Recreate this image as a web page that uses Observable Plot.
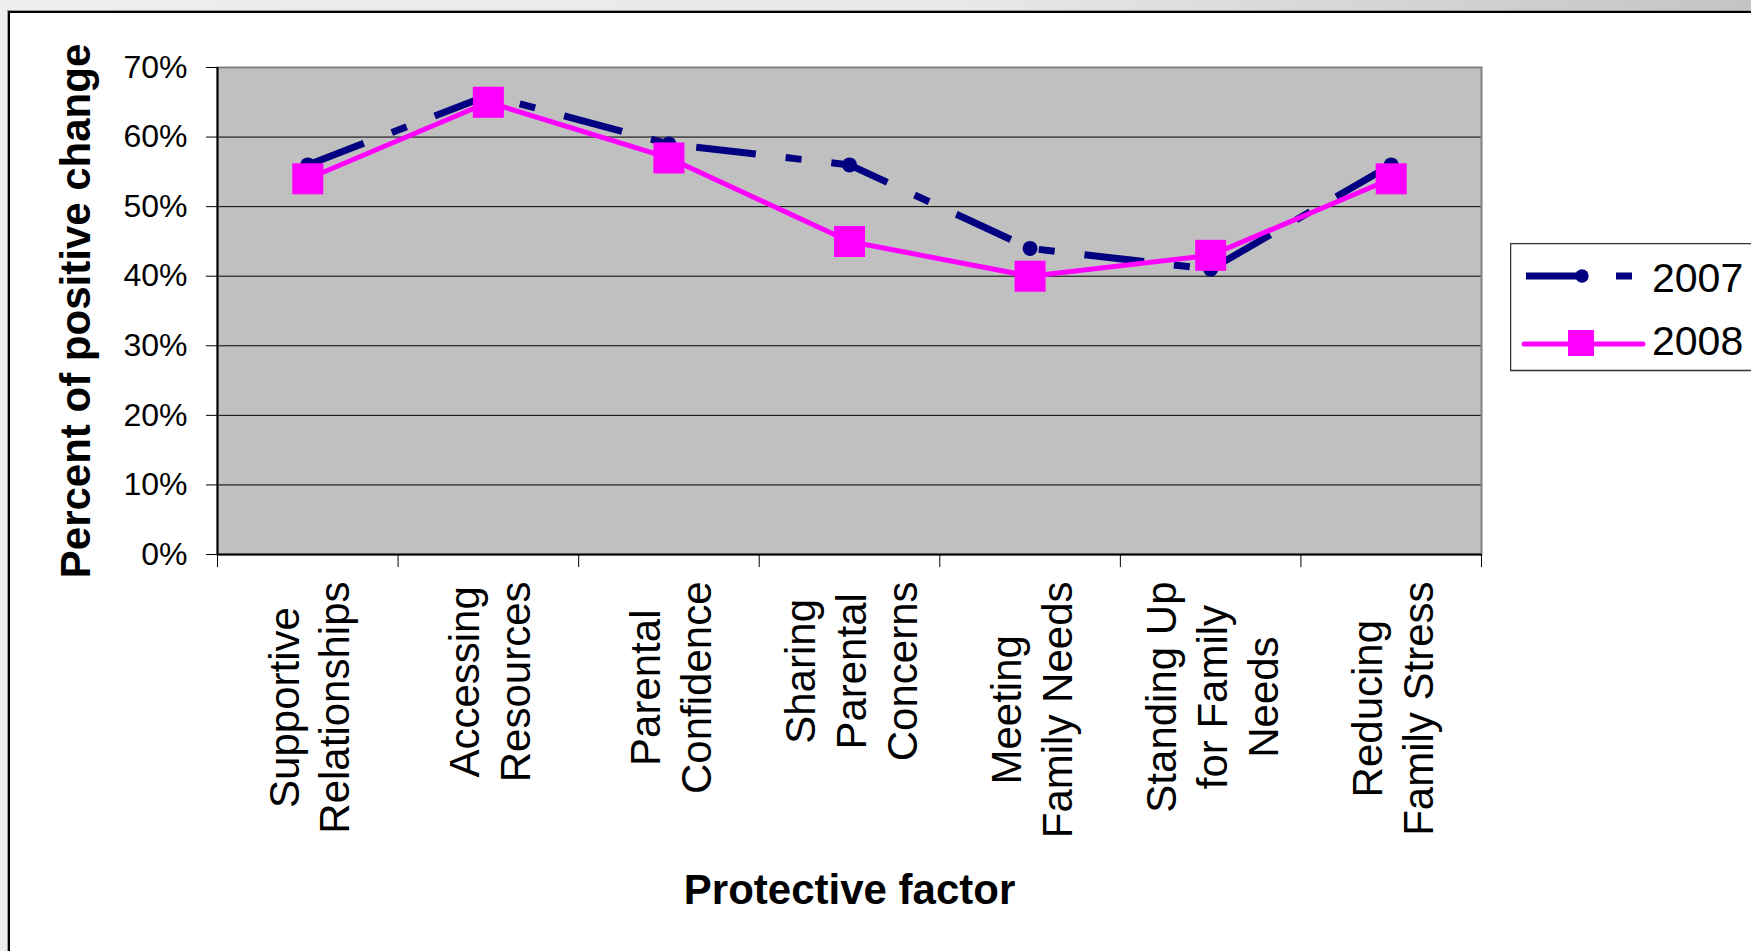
<!DOCTYPE html>
<html>
<head>
<meta charset="utf-8">
<script src="https://cdn.jsdelivr.net/npm/d3@7"></script>
<script src="https://cdn.jsdelivr.net/npm/@observablehq/plot@0.6"></script>
<style>
  html, body { margin: 0; padding: 0; }
  body {
    width: 1751px; height: 951px; overflow: hidden; position: relative;
    background: linear-gradient(to right, #eeeeee 0%, #e8e8e8 55%, #c4c4c4 100%);
    font-family: "Liberation Sans", Arial, sans-serif;
  }
  #frame {
    position: absolute; left: 8px; top: 11px; right: -20px; bottom: -20px;
    background: #ffffff; border-left: 2px solid #000; border-top: 2px solid #000;
    box-shadow: -1px -1px 0 #9a9a9a;
  }
  #chart { position: absolute; left: 0; top: 0; }
  #legend { position: absolute; left: 1510px; top: 243px; }
</style>
</head>
<body>
<div id="frame"></div>
<div id="chart"></div>
<div id="legend"></div>
<script>
// Protective factors (category labels, line breaks as drawn)
const factors = [
  "Supportive\nRelationships",
  "Accessing\nResources",
  "Parental\nConfidence",
  "Sharing\nParental\nConcerns",
  "Meeting\nFamily Needs",
  "Standing Up\nfor Family\nNeeds",
  "Reducing\nFamily Stress"
];
const years = ["2007", "2008"];
// Percent of positive change per factor
const values2007 = [56, 66, 59, 56, 44, 41, 56];
const values2008 = [54, 65, 57, 45, 40, 43, 54];
const yTicks = [0, 10, 20, 30, 40, 50, 60, 70];
const yTitle = "Percent of positive change";
const xTitle = "Protective factor";

const FONT = '"Liberation Sans", Arial, sans-serif';
const NAVY = "#000080";
const MAGENTA = "#ff00ff";

const width = 1751, height = 951;
const marginLeft = 217, marginRight = 270, marginTop = 67, marginBottom = 397;

// each factor sits in the middle of its slot; slot boundaries carry the ticks
const rows2007 = factors.map((f, i) => ({pos: i + 0.5, value: values2007[i]}));
const rows2008 = factors.map((f, i) => ({pos: i + 0.5, value: values2008[i]}));
const slotEdges = d3.range(factors.length + 1);

// measure each label's longest line so every rotated block starts just under the axis
const ctx = document.createElement("canvas").getContext("2d");
ctx.font = `42px ${FONT}`;
const blockLen = factors.map(f => d3.max(f.split("\n"), s => ctx.measureText(s).width));

const labelMarks = factors.map((f, i) =>
  Plot.text([{pos: i + 0.5, text: f}], {
    x: "pos", text: "text", frameAnchor: "bottom",
    rotate: -90, textAnchor: "middle", lineAnchor: "middle",
    lineHeight: 1.21, fontSize: 42, fill: "#000",
    dy: 27 + blockLen[i] / 2
  })
);

const chart = Plot.plot({
  width, height, marginLeft, marginRight, marginTop, marginBottom,
  style: {background: "transparent", fontFamily: FONT, overflow: "visible", color: "#000"},
  x: {type: "linear", domain: [0, factors.length], axis: null},
  y: {domain: [0, 70], axis: null},
  marks: [
    Plot.frame({fill: "#c0c0c0", stroke: null}),
    Plot.ruleY(yTicks.filter(d => d > 0), {stroke: "#000", strokeWidth: 1}),
    Plot.frame({stroke: "#808080", strokeWidth: 2, fill: null}),
    Plot.ruleX([0], {stroke: "#000", strokeWidth: 2}),
    Plot.ruleY([0], {stroke: "#000", strokeWidth: 2}),
    Plot.axisY({ticks: yTicks, tickSize: 11, tickPadding: 19, tickFormat: d => d + "%",
      fontSize: 32, label: null, stroke: "#000"}),
    Plot.axisX({ticks: slotEdges, tickSize: 13, tickFormat: () => "", label: null, stroke: "#000"}),
    // 2007: navy long-dash/dot line with round markers
    Plot.line(rows2007, {x: "pos", y: "value", stroke: NAVY, strokeWidth: 7,
      strokeDasharray: "60,30,16,30", strokeLinecap: "butt", strokeLinejoin: "miter"}),
    Plot.dot(rows2007, {x: "pos", y: "value", r: 7.5, fill: NAVY, stroke: null}),
    // 2008: magenta solid line with square markers
    Plot.line(rows2008, {x: "pos", y: "value", stroke: MAGENTA, strokeWidth: 5, strokeLinejoin: "round"}),
    Plot.dot(rows2008, {x: "pos", y: "value", symbol: "square", r: 17.5, fill: MAGENTA, stroke: null}),
    ...labelMarks,
    Plot.text([yTitle], {frameAnchor: "left", dx: -141, rotate: -90, fontSize: 42,
      fontWeight: "bold", textAnchor: "middle", lineAnchor: "middle", fill: "#000"}),
    Plot.text([xTitle], {frameAnchor: "bottom", dy: 336, fontSize: 42,
      fontWeight: "bold", textAnchor: "middle", lineAnchor: "middle", fill: "#000"})
  ]
});
document.getElementById("chart").appendChild(chart);

// legend box (runs off the right edge of the page)
const leg = d3.select("#legend").append("svg")
  .attr("width", 241).attr("height", 130)
  .style("display", "block").style("overflow", "hidden")
  .style("font-family", FONT);
leg.append("rect").attr("x", 0.5).attr("y", 0.5).attr("width", 400).attr("height", 127)
  .attr("fill", "#fff").attr("stroke", "#333").attr("stroke-width", 1.5);

leg.append("line").attr("x1", 16).attr("x2", 122).attr("y1", 33).attr("y2", 33)
  .attr("stroke", NAVY).attr("stroke-width", 7).attr("stroke-dasharray", "60,30,16,30");
leg.append("circle").attr("cx", 72).attr("cy", 33).attr("r", 6.7).attr("fill", NAVY);
leg.append("text").attr("x", 142).attr("y", 48.5).attr("font-size", 41).attr("fill", "#000").text(years[0]);

leg.append("line").attr("x1", 14).attr("x2", 133).attr("y1", 101).attr("y2", 101)
  .attr("stroke", MAGENTA).attr("stroke-width", 5).attr("stroke-linecap", "round");
leg.append("rect").attr("x", 58).attr("y", 87).attr("width", 26).attr("height", 26).attr("fill", MAGENTA);
leg.append("text").attr("x", 142).attr("y", 112).attr("font-size", 41).attr("fill", "#000").text(years[1]);
</script>
</body>
</html>
